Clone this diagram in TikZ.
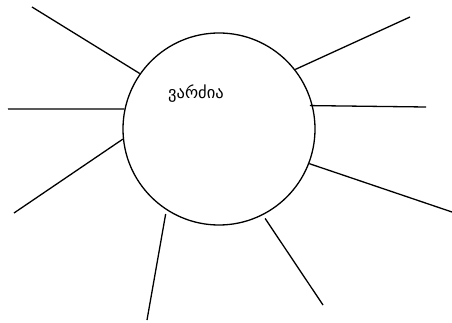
\documentclass[tikz,border=0pt]{standalone}
\usepackage{fontspec}
\newfontfamily\kafont[Script=Georgian]{DejaVu Sans}

\begin{document}
\begin{tikzpicture}[
  x=1pt,y=-1pt,
  hub/.style={draw,circle,line width=1.3pt,minimum size=192pt,inner sep=0pt},
  ray/.style={line width=1.3pt},
  title/.style={font=\kafont\fontsize{16.5}{19}\selectfont,inner sep=0pt}
]
  \useasboundingbox (0,0) rectangle (452,323);
  \node[hub] (fort) at (219,129) {};
  \node[title] (name) at (196,94) {ვარძია};

  \coordinate (r1) at (32,7);
  \coordinate (r2) at (8,109);
  \coordinate (r3) at (14,213);
  \coordinate (r4) at (147,320);
  \coordinate (r5) at (323,305);
  \coordinate (r6) at (452,212);
  \coordinate (r7) at (426,107);
  \coordinate (r8) at (410,17);

  \draw[ray] (fort.145) -- (r1);
  \draw[ray] (fort.168) -- (r2);
  \draw[ray] (fort.186) -- (r3);
  \draw[ray,shorten <=4pt] (fort.237) -- (r4);
  \draw[ray,shorten <=4pt] (fort.297) -- (r5);
  \draw[ray] (fort.339) -- (r6);
  \draw[ray,shorten <=-3pt] (fort.14) -- (r7);
  \draw[ray] (fort.38) -- (r8);
\end{tikzpicture}
\end{document}
